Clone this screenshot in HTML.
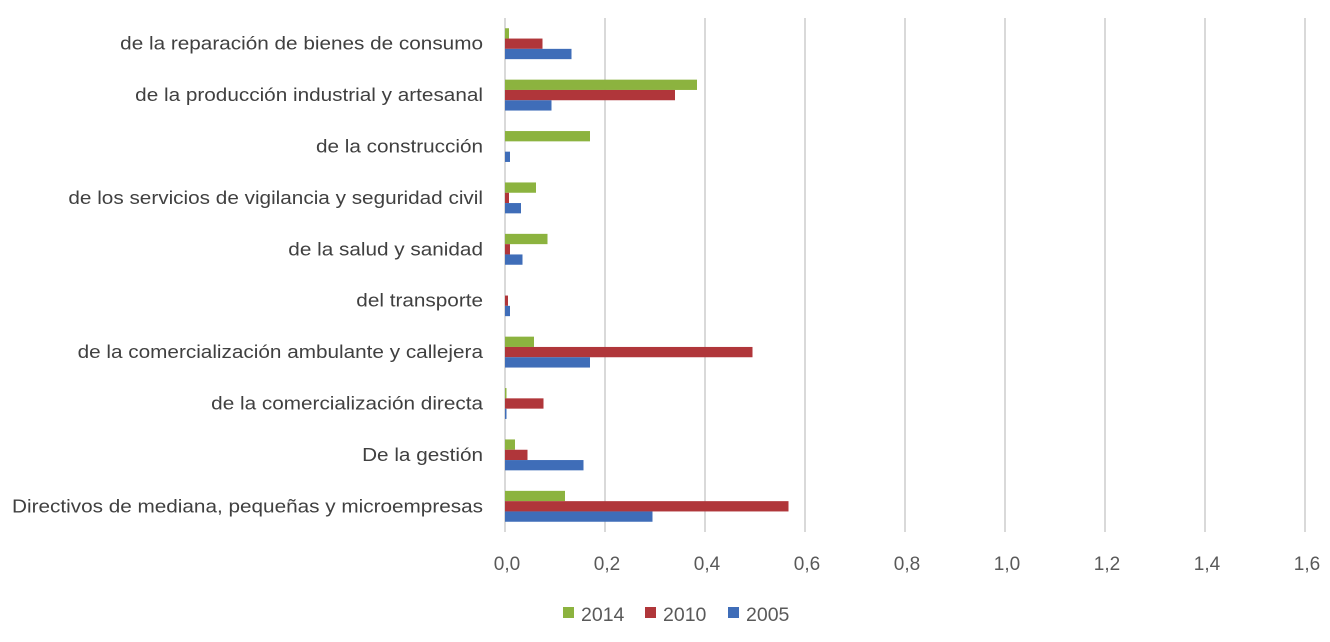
<!DOCTYPE html>
<html><head><meta charset="utf-8"><style>
body{margin:0;background:#fff;}
svg{display:block;font-family:"Liberation Sans",sans-serif;}
</style></head><body>
<svg id="chart" width="1330" height="642" viewBox="0 0 1330 642"></svg>
<script>
const categories=["de la reparación de bienes de consumo","de la producción industrial y artesanal","de la construcción","de los servicios de vigilancia y seguridad civil","de la salud y sanidad","del transporte","de la comercialización ambulante y callejera","de la comercialización directa ","De la gestión","Directivos de mediana, pequeñas y microempresas"];
const series2014=[0.008,0.384,0.17,0.062,0.085,0,0.058,0.003,0.02,0.12];
const series2010=[0.075,0.34,0,0.008,0.01,0.006,0.495,0.077,0.045,0.567];
const series2005=[0.133,0.093,0.01,0.032,0.035,0.01,0.17,0.003,0.157,0.295];
const tickValues=[0,0.2,0.4,0.6,0.8,1.0,1.2,1.4,1.6];
const tickLabels=["0,0","0,2","0,4","0,6","0,8","1,0","1,2","1,4","1,6"];
const seriesNames=["2014","2010","2005"];
const seriesColors=["#8cb33f","#b0363a","#3f6db8"];

const svgEl=document.getElementById('chart');
const NS='http://www.w3.org/2000/svg';
const x0=505,pxPerUnit=500,plotTop=18,band=51.4,barH=10.3;
const xs=v=>x0+v*pxPerUnit;
const yc=i=>plotTop+band*i+band/2;
function mk(t,a){const e=document.createElementNS(NS,t);for(const k in a)e.setAttribute(k,a[k]);svgEl.appendChild(e);return e;}

tickValues.forEach((v,i)=>{
  const g=mk('line',{x1:xs(v),x2:xs(v),y1:plotTop,y2:plotTop+band*categories.length,stroke:'#d9d9d9','stroke-width':2});
  
  
  const t=mk('text',{x:xs(v)+2,y:570,'text-anchor':'middle','font-size':19,fill:'#595959'});
  t.textContent=tickLabels[i];
  
  
});
const all=[series2014,series2010,series2005];
categories.forEach((c,i)=>{
  const t=mk('text',{x:483,y:yc(i)+6,'text-anchor':'end','font-size':18.5,fill:'#404040'});
  t.textContent=c;
  
  
  const w=t.getComputedTextLength();
  if(w>0){t.setAttribute('textLength',(w*1.12).toFixed(1));t.setAttribute('lengthAdjust','spacingAndGlyphs');}
  all.forEach((s,j)=>{
    const r=mk('rect',{x:x0,y:yc(i)-1.5*barH+j*barH,width:Math.max(0,xs(s[i])-x0),height:barH,fill:seriesColors[j]});
    
    
  });
});
const lx=[563,645,728];
seriesNames.forEach((n,j)=>{
  const r=mk('rect',{x:lx[j],y:607,width:11,height:11,fill:seriesColors[j]});
  
  
  const t=mk('text',{x:lx[j]+18,y:621,'font-size':19.5,fill:'#595959'});
  t.textContent=n;
  
  
});
</script>
</body></html>
